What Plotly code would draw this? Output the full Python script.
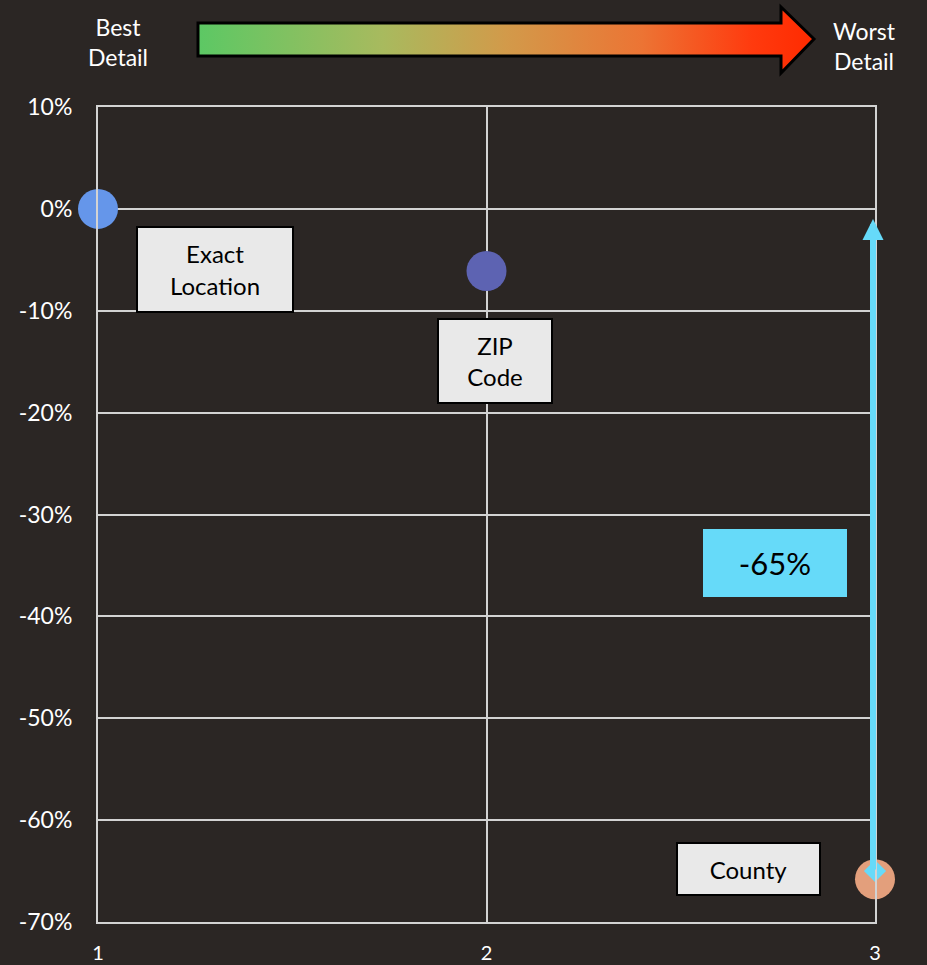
import base64
import plotly.graph_objects as go

# --- data -------------------------------------------------------------
levels = [1, 2, 3]
level_names = ["Exact Location", "ZIP Code", "County"]
level_labels = ["Exact<br>Location", "ZIP<br>Code", "County"]
accuracy_change = [0.0, -0.061, -0.658]
point_colors = ["#6596EA", "#5D63B2", "#E39F7C"]

drop_start = 0.0
drop_value = -0.65
drop_text = "-65%"

y_tickvals = [0.1, 0.0, -0.1, -0.2, -0.3, -0.4, -0.5, -0.6, -0.7]
y_ticktext = ["10%", "0%", "-10%", "-20%", "-30%", "-40%", "-50%", "-60%", "-70%"]
x_tickvals = [1, 2, 3]
x_ticktext = ["1", "2", "3"]

# --- page geometry ----------------------------------------------------
W, H = 927, 965
M_L, M_R, M_T, M_B = 98, 52, 107, 43
PW, PH = W - M_L - M_R, H - M_T - M_B

BG = "#2B2624"
GRID = "#D3D3D3"
CYAN = "#66DAF9"
FONT = "Lato"


def px(x):
    return (x - M_L) / PW


def py(y):
    return (H - M_B - y) / PH


fig = go.Figure()

fig.add_trace(go.Scatter(
    x=levels, y=accuracy_change, mode="markers",
    marker=dict(size=40, color=point_colors, line=dict(width=0)),
    text=level_names, cliponaxis=False, showlegend=False,
    hoverinfo="text+y",
))

# diamond tail of the drop arrow
fig.add_trace(go.Scatter(
    x=[levels[-1]], y=[drop_value], mode="markers",
    marker=dict(symbol="diamond", size=17, color=CYAN, line=dict(width=0)),
    cliponaxis=False, showlegend=False, hoverinfo="skip",
))

annotations = []

# drop arrow from county level up to the exact-location level
annotations.append(dict(
    x=levels[-1], y=drop_start, ax=levels[-1], ay=drop_value,
    xref="x", yref="y", axref="x", ayref="y", text="",
    showarrow=True, arrowhead=2, arrowsize=0.7, arrowwidth=6,
    arrowcolor=CYAN, standoff=10, xshift=-2,
))

# label boxes next to each point
label_offsets = [(117, -61), (8, -90), (-127, 10)]
label_sizes = [(154, 83), (112, 82), (141, 50)]
for xv, yv, lab, (dx, dy), (bw, bh) in zip(levels, accuracy_change, level_labels,
                                           label_offsets, label_sizes):
    annotations.append(dict(
        x=xv, y=yv, xref="x", yref="y", text=lab, showarrow=False,
        xshift=dx, yshift=dy, width=bw, height=bh,
        bgcolor="#E9E9E9", bordercolor="#000000", borderwidth=2, borderpad=0,
        font=dict(family=FONT, size=24, color="#000000"),
        align="center", valign="middle",
    ))

# drop value box
annotations.append(dict(
    x=px(775), y=py(563), xref="paper", yref="paper", text=drop_text,
    showarrow=False, width=142, height=66, bgcolor=CYAN, borderwidth=0,
    font=dict(family=FONT, size=31, color="#000000"),
    xanchor="center", yanchor="middle",
))

# detail scale captions
annotations.append(dict(
    x=px(118), y=py(42), xref="paper", yref="paper", text="Best<br>Detail",
    showarrow=False, font=dict(family=FONT, size=23, color="#FFFFFF"),
    xanchor="center", yanchor="middle", align="center",
))
annotations.append(dict(
    x=px(864), y=py(46), xref="paper", yref="paper", text="Worst<br>Detail",
    showarrow=False, font=dict(family=FONT, size=23, color="#FFFFFF"),
    xanchor="center", yanchor="middle", align="center",
))

# gradient "detail" arrow as an inline SVG image
IMG_X0, IMG_Y0, IMG_W, IMG_H = 190, 0, 632, 82
svg = f"""<svg xmlns="http://www.w3.org/2000/svg" width="{IMG_W}" height="{IMG_H}" viewBox="0 0 {IMG_W} {IMG_H}">
<defs><linearGradient id="g" x1="0" y1="0" x2="1" y2="0">
<stop offset="0" stop-color="#5CC864"/>
<stop offset="0.3" stop-color="#A8BA5E"/>
<stop offset="0.5" stop-color="#D29A4A"/>
<stop offset="0.72" stop-color="#EC7434"/>
<stop offset="0.9" stop-color="#FF3A0E"/>
<stop offset="1" stop-color="#FF2A00"/>
</linearGradient></defs>
<polygon points="8,23 591,23 591,7 624,39 591,73 591,56 8,56" fill="url(#g)" stroke="#000000" stroke-width="3" stroke-linejoin="miter"/>
</svg>"""
svg_uri = "data:image/svg+xml;base64," + base64.b64encode(svg.encode()).decode()

fig.update_layout(
    width=W, height=H,
    margin=dict(l=M_L, r=M_R, t=M_T, b=M_B, pad=0, autoexpand=False),
    paper_bgcolor=BG, plot_bgcolor=BG,
    showlegend=False,
    annotations=annotations,
    images=[dict(
        source=svg_uri, xref="paper", yref="paper",
        x=px(IMG_X0), y=py(IMG_Y0), sizex=IMG_W / PW, sizey=IMG_H / PH,
        xanchor="left", yanchor="top", sizing="stretch", layer="above",
    )],
    xaxis=dict(
        range=[1, 3], tickvals=x_tickvals, ticktext=x_ticktext,
        showgrid=True, gridcolor=GRID, gridwidth=2,
        showline=True, linecolor=GRID, linewidth=2, mirror=True,
        zeroline=False, ticks="", ticklabelstandoff=12, automargin=False,
        tickfont=dict(family=FONT, size=20, color="#FFFFFF"),
    ),
    yaxis=dict(
        range=[-0.7, 0.1], tickvals=y_tickvals, ticktext=y_ticktext,
        showgrid=True, gridcolor=GRID, gridwidth=2,
        showline=True, linecolor=GRID, linewidth=2, mirror=True,
        zeroline=False, ticks="", ticklabelstandoff=19, automargin=False,
        tickfont=dict(family=FONT, size=23, color="#FFFFFF"),
    ),
)

fig.write_html("out.html")
